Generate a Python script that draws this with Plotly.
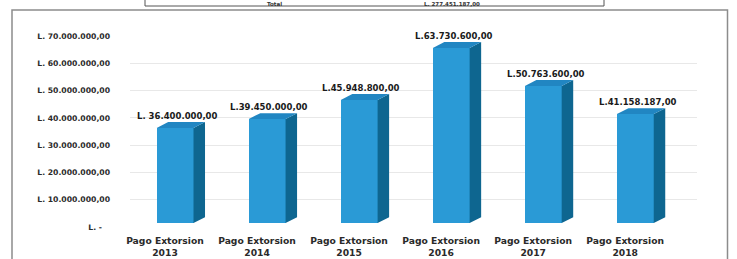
import plotly.graph_objects as go

categories = ["Pago Extorsion<br>2013", "Pago Extorsion<br>2014", "Pago Extorsion<br>2015",
              "Pago Extorsion<br>2016", "Pago Extorsion<br>2017", "Pago Extorsion<br>2018"]
values = [36400000, 39450000, 45948800, 63730600, 50763600, 41158187]
value_labels = ["L. 36.400.000,00", "L.39.450.000,00", "L.45.948.800,00",
                "L.63.730.600,00", "L.50.763.600,00", "L.41.158.187,00"]
y_tickvals = [0, 10000000, 20000000, 30000000, 40000000, 50000000, 60000000, 70000000]
y_ticktext = ["L. -   ", "L. 10.000.000,00", "L. 20.000.000,00", "L. 30.000.000,00",
              "L. 40.000.000,00", "L. 50.000.000,00", "L. 60.000.000,00", "L. 70.000.000,00"]
total_label = "Total"
total_value = "L. 277.451.187,00"

W, H = 737, 259
L, R, T, B = 130, 40, 36, 32
pw, ph = W - L - R, H - T - B

FRONT = "#2a9ad6"
SIDE = "#0e6690"
TOP = "#2186c2"
FONT = "DejaVu Sans"

# 3D projection (front faces sit on a perspective scale, back wall holds the gridlines)
Y2_RANGE = [2560000, 67800000]
FLOOR = 3930000
off, bw = -0.09, 0.40     # front face offset / width (category units)
dx = 0.125                 # depth in x
dy = 2000000               # depth in y (front-scale units)

xs = list(range(len(values)))

fig = go.Figure()

# empty trace so the gridline/tick axis owns the base subplot
fig.add_trace(go.Scatter(x=[], y=[], mode="markers", showlegend=False, hoverinfo="skip"))

for i, v in zip(xs, values):
    xr = i + off + bw
    xl = i + off
    fig.add_trace(go.Scatter(
        x=[xr, xr + dx, xr + dx, xr, xr], y=[FLOOR, FLOOR + dy, v + dy, v, FLOOR],
        fill="toself", fillcolor=SIDE, line=dict(width=0), mode="lines",
        hoverinfo="skip", showlegend=False, yaxis="y2"))
    fig.add_trace(go.Scatter(
        x=[xl, xr, xr + dx, xl + dx, xl], y=[v, v, v + dy, v + dy, v],
        fill="toself", fillcolor=TOP, line=dict(width=0), mode="lines",
        hoverinfo="skip", showlegend=False, yaxis="y2"))

fig.add_trace(go.Bar(x=xs, y=[v - FLOOR for v in values], base=FLOOR, offset=off, width=bw,
                     marker=dict(color=FRONT, line=dict(width=0)), showlegend=False,
                     yaxis="y2"))

for i, v, t in zip(xs, values, value_labels):
    fig.add_annotation(x=i + off + bw / 2 + 0.025, y=v, yref="y2", text=t, showarrow=False,
                       yanchor="middle", yshift=12,
                       font=dict(family=FONT, size=8.5, color="#1a1a1a", weight="bold"))

def px_x(p):
    return (p - L) / pw

def px_y(p):
    return (H - B - p) / ph

# outer frame
fig.add_shape(type="rect", xref="paper", yref="paper",
              x0=px_x(12), x1=px_x(727.5), y0=px_y(275), y1=px_y(10),
              line=dict(color="#8c8c8c", width=1.5), fillcolor="rgba(0,0,0,0)")
# table box above (cut off)
fig.add_shape(type="rect", xref="paper", yref="paper",
              x0=px_x(145), x1=px_x(604), y0=px_y(6), y1=px_y(-20),
              line=dict(color="#555555", width=1), fillcolor="rgba(0,0,0,0)")
fig.add_annotation(xref="paper", yref="paper", x=px_x(266), y=px_y(0), text=total_label,
                   showarrow=False, yanchor="top", borderpad=0,
                   font=dict(family=FONT, size=5.5, color="#333333", weight="bold"))
fig.add_annotation(xref="paper", yref="paper", x=px_x(452), y=px_y(0), text=total_value,
                   showarrow=False, yanchor="top", borderpad=0,
                   font=dict(family=FONT, size=5.5, color="#333333", weight="bold"))

fig.update_layout(
    width=W, height=H, margin=dict(l=L, r=R, t=T, b=B, pad=0),
    paper_bgcolor="white", plot_bgcolor="white",
    bargap=0,
    xaxis=dict(range=[-0.38, 5.78], tickvals=xs, ticktext=categories, showgrid=False,
               zeroline=False, showline=False, ticks="", automargin=False,
               ticklabelstandoff=7,
               tickfont=dict(family=FONT, size=9.2, color="#2a2a2a", weight="bold")),
    yaxis=dict(range=[0, 70000000], tickvals=y_tickvals, ticktext=y_ticktext,
               showgrid=True, gridcolor="#e8e8e8", gridwidth=1, zeroline=False,
               showline=False, ticks="", ticklabelstandoff=19, automargin=False,
               tickfont=dict(family=FONT, size=7.7, color="#2a2a2a", weight="bold")),
    yaxis2=dict(range=Y2_RANGE, overlaying="y", side="left", showgrid=False,
                zeroline=False, showline=False, showticklabels=False, ticks="",
                automargin=False),
)

fig.write_html("out.html", config={"displayModeBar": False},
               post_script="document.body.style.margin='0';document.body.style.overflow='hidden';")
